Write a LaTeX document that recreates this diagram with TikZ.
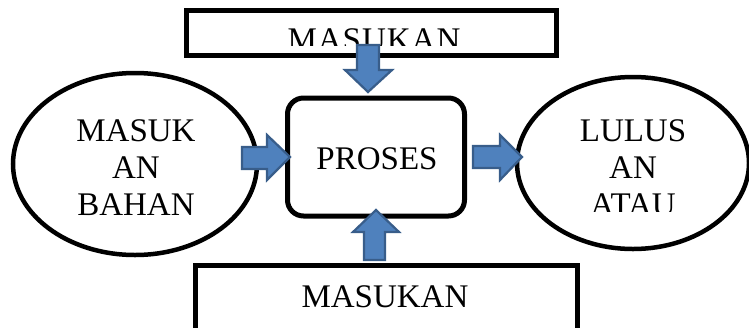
\documentclass[tikz,border=0pt]{standalone}
\usepackage{fontspec}
\setmainfont{Liberation Serif}
\usetikzlibrary{shapes.geometric}
\definecolor{arrfill}{HTML}{4F81BD}
\definecolor{arrline}{HTML}{385D8A}
\begin{document}
\begin{tikzpicture}[x=1pt,y=-1pt,
  box/.style={draw=black,line width=5pt},
  oval/.style={draw=black,line width=4.5pt},
  blk/.style={fill=arrfill,draw=arrline,line width=2.2pt,line join=miter},
  lbl/.style={font=\fontsize{33}{37}\selectfont,align=center,inner sep=0pt}]
\useasboundingbox (0,0) rectangle (749,327);
\clip (0,0) rectangle (749,327);
% top box
\draw[box] (186,10) rectangle (556,55);
\node[inner sep=0pt] (topbox) at (371,32) {};
\begin{scope}
\clip (186,12) rectangle (556,45);
\node[lbl,anchor=base] (toptxt) at (374,50) {M\kern1pt A\kern1pt S\kern1pt U\kern1pt K\kern1pt A\kern1pt N};
\end{scope}
% left ellipse
\node[oval,ellipse,minimum width=244pt,minimum height=182pt] (left) at (135,164) {};
\node[lbl] (lefttxt) at (136,168) {MASUK\\AN\\BAHAN};
% proses
\node[box,rounded corners=16pt,minimum width=177pt,minimum height=118pt] (proses) at (376,157) {};
\node[lbl] (prosestxt) at (377,159) {PROSES};
% right ellipse
\node[oval,ellipse,minimum width=232pt,minimum height=172pt] (right) at (633,163) {};
\begin{scope}
\clip (520,80) rectangle (748,211);
\node[lbl] (righttxt) at (633,168) {LULUS\\AN\\ATAU};
\end{scope}
% bottom box
\draw[box] (195,265) rectangle (577,340);
\node[lbl] (bottxt) at (385,297) {MASUKAN};
% arrows
\draw[blk] (242,147) -- (267,147) -- (267,135) -- (290,157) -- (267,180) -- (267,169) -- (242,169) -- cycle;
\draw[blk] (473,146) -- (500,146) -- (500,135) -- (522,157) -- (500,180) -- (500,168) -- (473,168) -- cycle;
\draw[blk] (357,45) -- (379,45) -- (379,70) -- (392,70) -- (368,92) -- (345,70) -- (357,70) -- cycle;
\draw[blk] (364,260) -- (385,260) -- (385,232) -- (399,232) -- (376,210) -- (353,232) -- (364,232) -- cycle;
\end{tikzpicture}
\end{document}
